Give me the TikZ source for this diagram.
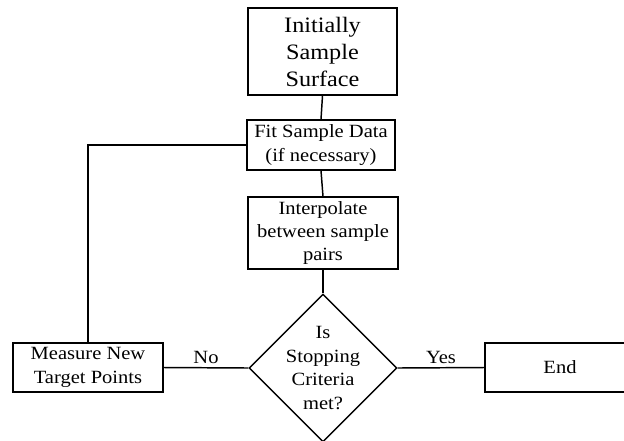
\documentclass[tikz,border=0pt]{standalone}
\usepackage{fontspec}
\setmainfont[FakeStretch=1.1]{Liberation Serif}
\usetikzlibrary{shapes.geometric}
\begin{document}
\begin{tikzpicture}[x=0.75pt,y=-0.75pt,
  box/.style={draw, line width=1.1pt, rectangle, inner sep=0pt, align=center,
    font=\fontsize{14}{17.5}\selectfont},
  link/.style={line width=1.1pt},
  lbl/.style={font=\fontsize{14}{17}\selectfont, inner sep=0pt, text depth=0pt}]
\useasboundingbox (0,0) rectangle (624,440);
\clip (0,0) rectangle (624,440);
\node[box, minimum width=111.75pt, minimum height=65.25pt,
  font=\fontsize{16.5}{20.25}\selectfont] (init) at (322.5,51.5) {Initially\\Sample\\Surface};
\node[box, minimum width=111pt, minimum height=37.5pt] (fit) at (321,145) {Fit Sample Data\\(if necessary)};
\node[box, minimum width=112.5pt, minimum height=54pt] (interp) at (323,233) {Interpolate\\between sample\\pairs};
\node[draw, line width=1.1pt, diamond, aspect=1, minimum width=111pt, minimum height=111pt, inner sep=0pt] (crit) at (323,368) {};
\node[align=center, font=\fontsize{14}{17.75}\selectfont, inner sep=0pt] (crittext) at (crit.center) {Is\\Stopping\\Criteria\\met?};
\node[box, minimum width=112.5pt, minimum height=36.75pt] (meas) at (88,367.5) {Measure New\\Target Points};
\node[box, minimum width=112.5pt, minimum height=36.75pt] (end) at (560,367.5) {End};
\draw[link] (init.south) -- (fit.north);
\draw[link] (fit.south) -- (interp.north);
\draw[link] (interp.south) -- (crit.north);
\draw[link] (meas.north) |- (fit.west);
\draw[link] (meas.east) -- node[lbl, above=3pt] (nolbl) {No} (crit.west);
\draw[link] (crit.east) -- node[lbl, above=3pt] (yeslbl) {Yes} (end.west);
\end{tikzpicture}
\end{document}
